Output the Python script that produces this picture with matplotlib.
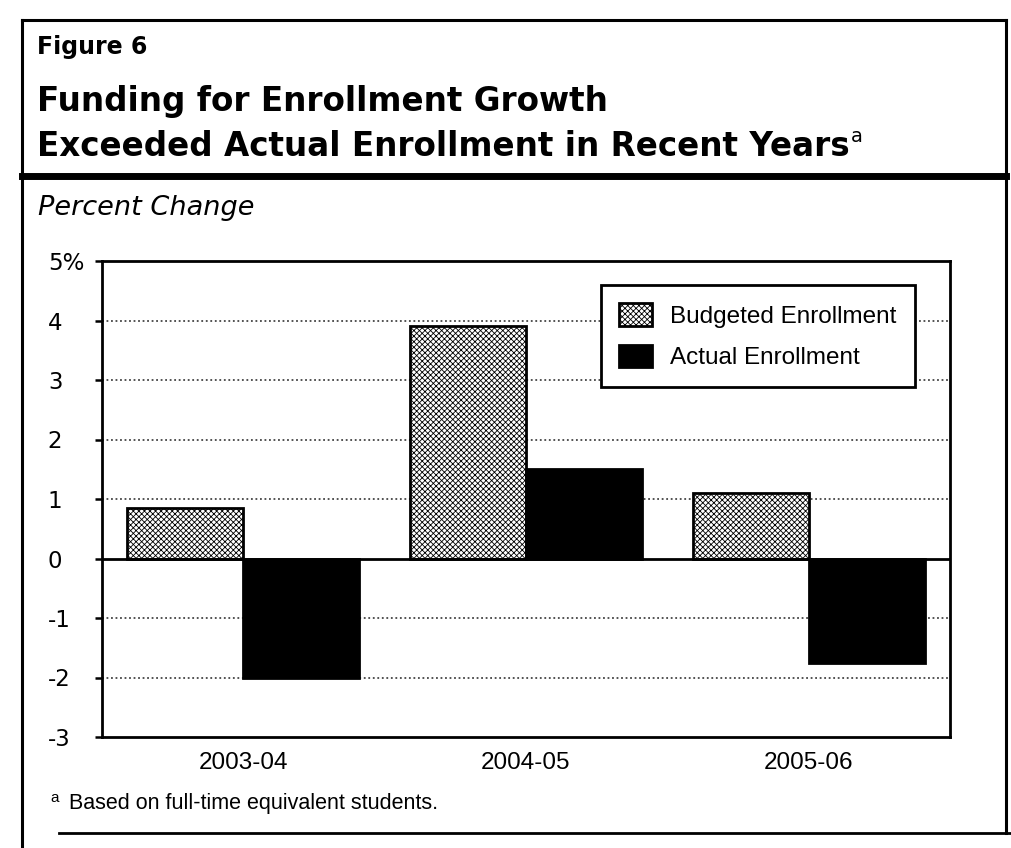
import matplotlib.pyplot as plt
from matplotlib.lines import Line2D
import numpy as np

# data
years = ['2003-04', '2004-05', '2005-06']
budgeted = [0.85, 3.9, 1.1]
actual = [-2.0, 1.5, -1.75]
y_ticks = [-3, -2, -1, 0, 1, 2, 3, 4, 5]
y_labels = ['-3', '-2', '-1', '0', '1', '2', '3', '4', '5%']

plt.rcParams['font.family'] = ['Liberation Sans', 'DejaVu Sans']
plt.rcParams['hatch.linewidth'] = 0.6

W, H = 1011, 848
fig = plt.figure(figsize=(W / 100, H / 100), dpi=100)


def fx(px):
    return px / W


def fy(py):
    return 1 - py / H


# page frame lines
fig.add_artist(Line2D([fx(22), fx(22)], [fy(20), 0], color='black', lw=2.2))
fig.add_artist(Line2D([fx(22), fx(1006)], [fy(20), fy(20)], color='black', lw=2.2))
fig.add_artist(Line2D([fx(1006), fx(1006)], [fy(20), fy(833)], color='black', lw=2.2))
fig.add_artist(Line2D([fx(22), fx(1006)], [fy(176), fy(176)], color='black', lw=5))
fig.add_artist(Line2D([fx(59), 1], [fy(833), fy(833)], color='black', lw=2))

# heading texts
fig.text(fx(37), fy(54), 'Figure 6', fontsize=17, fontweight='bold',
         family='DejaVu Sans', va='baseline')
fig.text(fx(37), fy(111), 'Funding for Enrollment Growth', fontsize=23.5,
         fontweight='bold', family='DejaVu Sans', va='baseline')
t2 = fig.text(fx(37), fy(156), 'Exceeded Actual Enrollment in Recent Years', fontsize=23.5,
              fontweight='bold', family='DejaVu Sans', va='baseline')
fig.text(fx(38), fy(215), 'Percent Change', fontsize=19.5, style='italic',
         family='DejaVu Sans', va='baseline')

# superscript note marker placed after the second title line
fig.canvas.draw()
bb = t2.get_window_extent()
fig.text(bb.x1 / W + fx(1), fy(142), 'a', fontsize=14, family='DejaVu Sans', va='baseline')

fig.text(fx(50), fy(802), 'a', fontsize=11, va='baseline')
fig.text(fx(69), fy(809), 'Based on full-time equivalent students.', fontsize=15.5,
         va='baseline')

ax = fig.add_axes([fx(102), fy(737), fx(950) - fx(102), (737 - 261) / H])

x = np.arange(len(years))
w = 0.41
ax.bar(x - w / 2, budgeted, w, facecolor='white', edgecolor='black', hatch='xxxxxx',
       linewidth=2, label='Budgeted Enrollment', zorder=3)
ax.bar(x + w / 2, actual, w, facecolor='black', edgecolor='black', linewidth=2,
       label='Actual Enrollment', zorder=3)

ax.axhline(0, color='black', lw=2, zorder=4)
for t in y_ticks:
    if t not in (0, 5, -3):
        ax.axhline(t, color='#444444', lw=1.3, linestyle=(0, (1, 1.5)), zorder=1)

ax.set_xlim(-0.5, 2.5)
ax.set_ylim(-3, 5)
ax.set_yticks(y_ticks)
ax.set_yticklabels(y_labels, family='DejaVu Sans', fontsize=16.5)
for lab in ax.get_yticklabels():
    lab.set_horizontalalignment('left')
ax.set_xticks(x)
ax.set_xticklabels(years, fontsize=17.5)
ax.tick_params(axis='y', direction='out', length=5, width=1.8, pad=34)
ax.tick_params(axis='x', length=0, pad=11)
for s in ax.spines.values():
    s.set_linewidth(2)

leg = ax.legend(loc='upper right', bbox_to_anchor=(0.973, 0.976), fontsize=17.5,
                frameon=True, fancybox=False, edgecolor='black', handlelength=1.36,
                handleheight=1.07, borderpad=0.75, labelspacing=0.7, handletextpad=0.74,
                framealpha=1)
leg.get_frame().set_linewidth(2)

fig.savefig('out.png', dpi=100)
